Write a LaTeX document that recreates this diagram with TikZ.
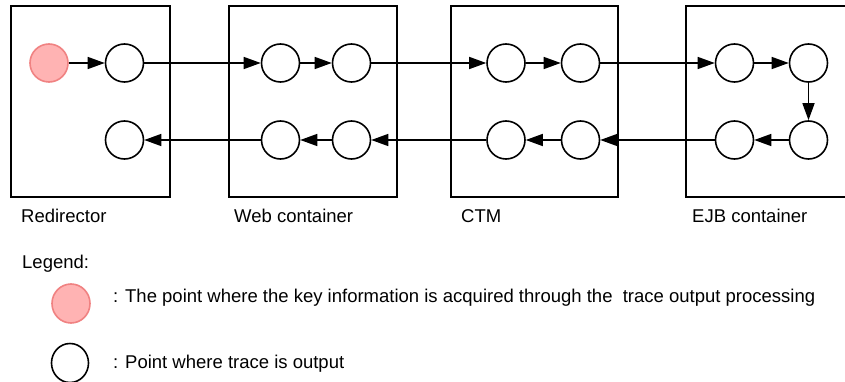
\documentclass[tikz,border=0pt]{standalone}
\usepackage{fontspec}
\setmainfont{Liberation Sans}
\usetikzlibrary{arrows.meta,shapes.geometric}
\definecolor{pinkfill}{RGB}{255,179,179}
\definecolor{pinkline}{RGB}{240,130,130}
\begin{document}
\begin{tikzpicture}[x=1pt,y=-1pt,
  pt/.style={circle,draw=black,line width=1.6pt,inner sep=0pt,minimum size=38pt},
  keypt/.style={pt,draw=pinkline,fill=pinkfill},
  legkey/.style={ellipse,draw=pinkline,fill=pinkfill,line width=1.6pt,inner sep=0pt,minimum width=38pt,minimum height=39pt},
  legpt/.style={ellipse,draw=black,line width=1.6pt,inner sep=0pt,minimum width=37pt,minimum height=39pt},
  container/.style={draw=black,line width=1.7pt},
  flow/.style={line width=1.5pt,-{Triangle[length=17pt,width=12pt]}},
  lbl/.style={anchor=base west,inner sep=0pt,font=\fontsize{18.5}{22}\selectfont}]
\useasboundingbox (0,0) rectangle (845,382);
% containers
\draw[container] (11,6) rectangle (170,197);
\draw[container] (229,6) rectangle (397,197);
\draw[container] (451,6) rectangle (618,197);
\draw[container] (686,6) rectangle (853,197);
% points
\node[keypt] (r1) at (49,63) {};
\node[pt] (r2) at (124.5,63) {};
\node[pt] (r3) at (124.5,140) {};
\node[pt] (w1) at (280.5,63) {};
\node[pt] (w2) at (351.5,63) {};
\node[pt] (w3) at (280.5,140) {};
\node[pt] (w4) at (351.5,140) {};
\node[pt] (t1) at (506,63) {};
\node[pt] (t2) at (580.5,63) {};
\node[pt] (t3) at (506,140) {};
\node[pt] (t4) at (580.5,140) {};
\node[pt] (e1) at (734.5,63) {};
\node[pt] (e2) at (808.5,63) {};
\node[pt] (e3) at (808.5,140) {};
\node[pt] (e4) at (734.5,140) {};
% flow
\draw[flow] (r1) -- (r2);
\draw[flow] (r2) -- (w1);
\draw[flow] (w1) -- (w2);
\draw[flow] (w2) -- (t1);
\draw[flow] (t1) -- (t2);
\draw[flow] (t2) -- (e1);
\draw[flow] (e1) -- (e2);
\draw[flow] (e2) -- (e3);
\draw[flow] (e3) -- (e4);
\draw[flow] (e4) -- (t4);
\draw[flow] (t4) -- (t3);
\draw[flow] (t3) -- (w4);
\draw[flow] (w4) -- (w3);
\draw[flow] (w3) -- (r3);
% labels
\node[lbl] (lr) at (21,222) {Redirector};
\node[lbl] (lw) at (234,222) {Web container};
\node[lbl] (lc) at (461,222) {CTM};
\node[lbl] (le) at (692,222) {EJB container};
% legend
\node[lbl] (lg) at (22,268) {Legend:};
\node[legkey] (k1) at (71,303.5) {};
\node[legpt] (k2) at (70,363) {};
\node[lbl] (t1l) at (113,302) {: The point where the key information is acquired through the \ trace output processing};
\node[lbl] (t2l) at (113,368) {: Point where trace is output};
\end{tikzpicture}
\end{document}
